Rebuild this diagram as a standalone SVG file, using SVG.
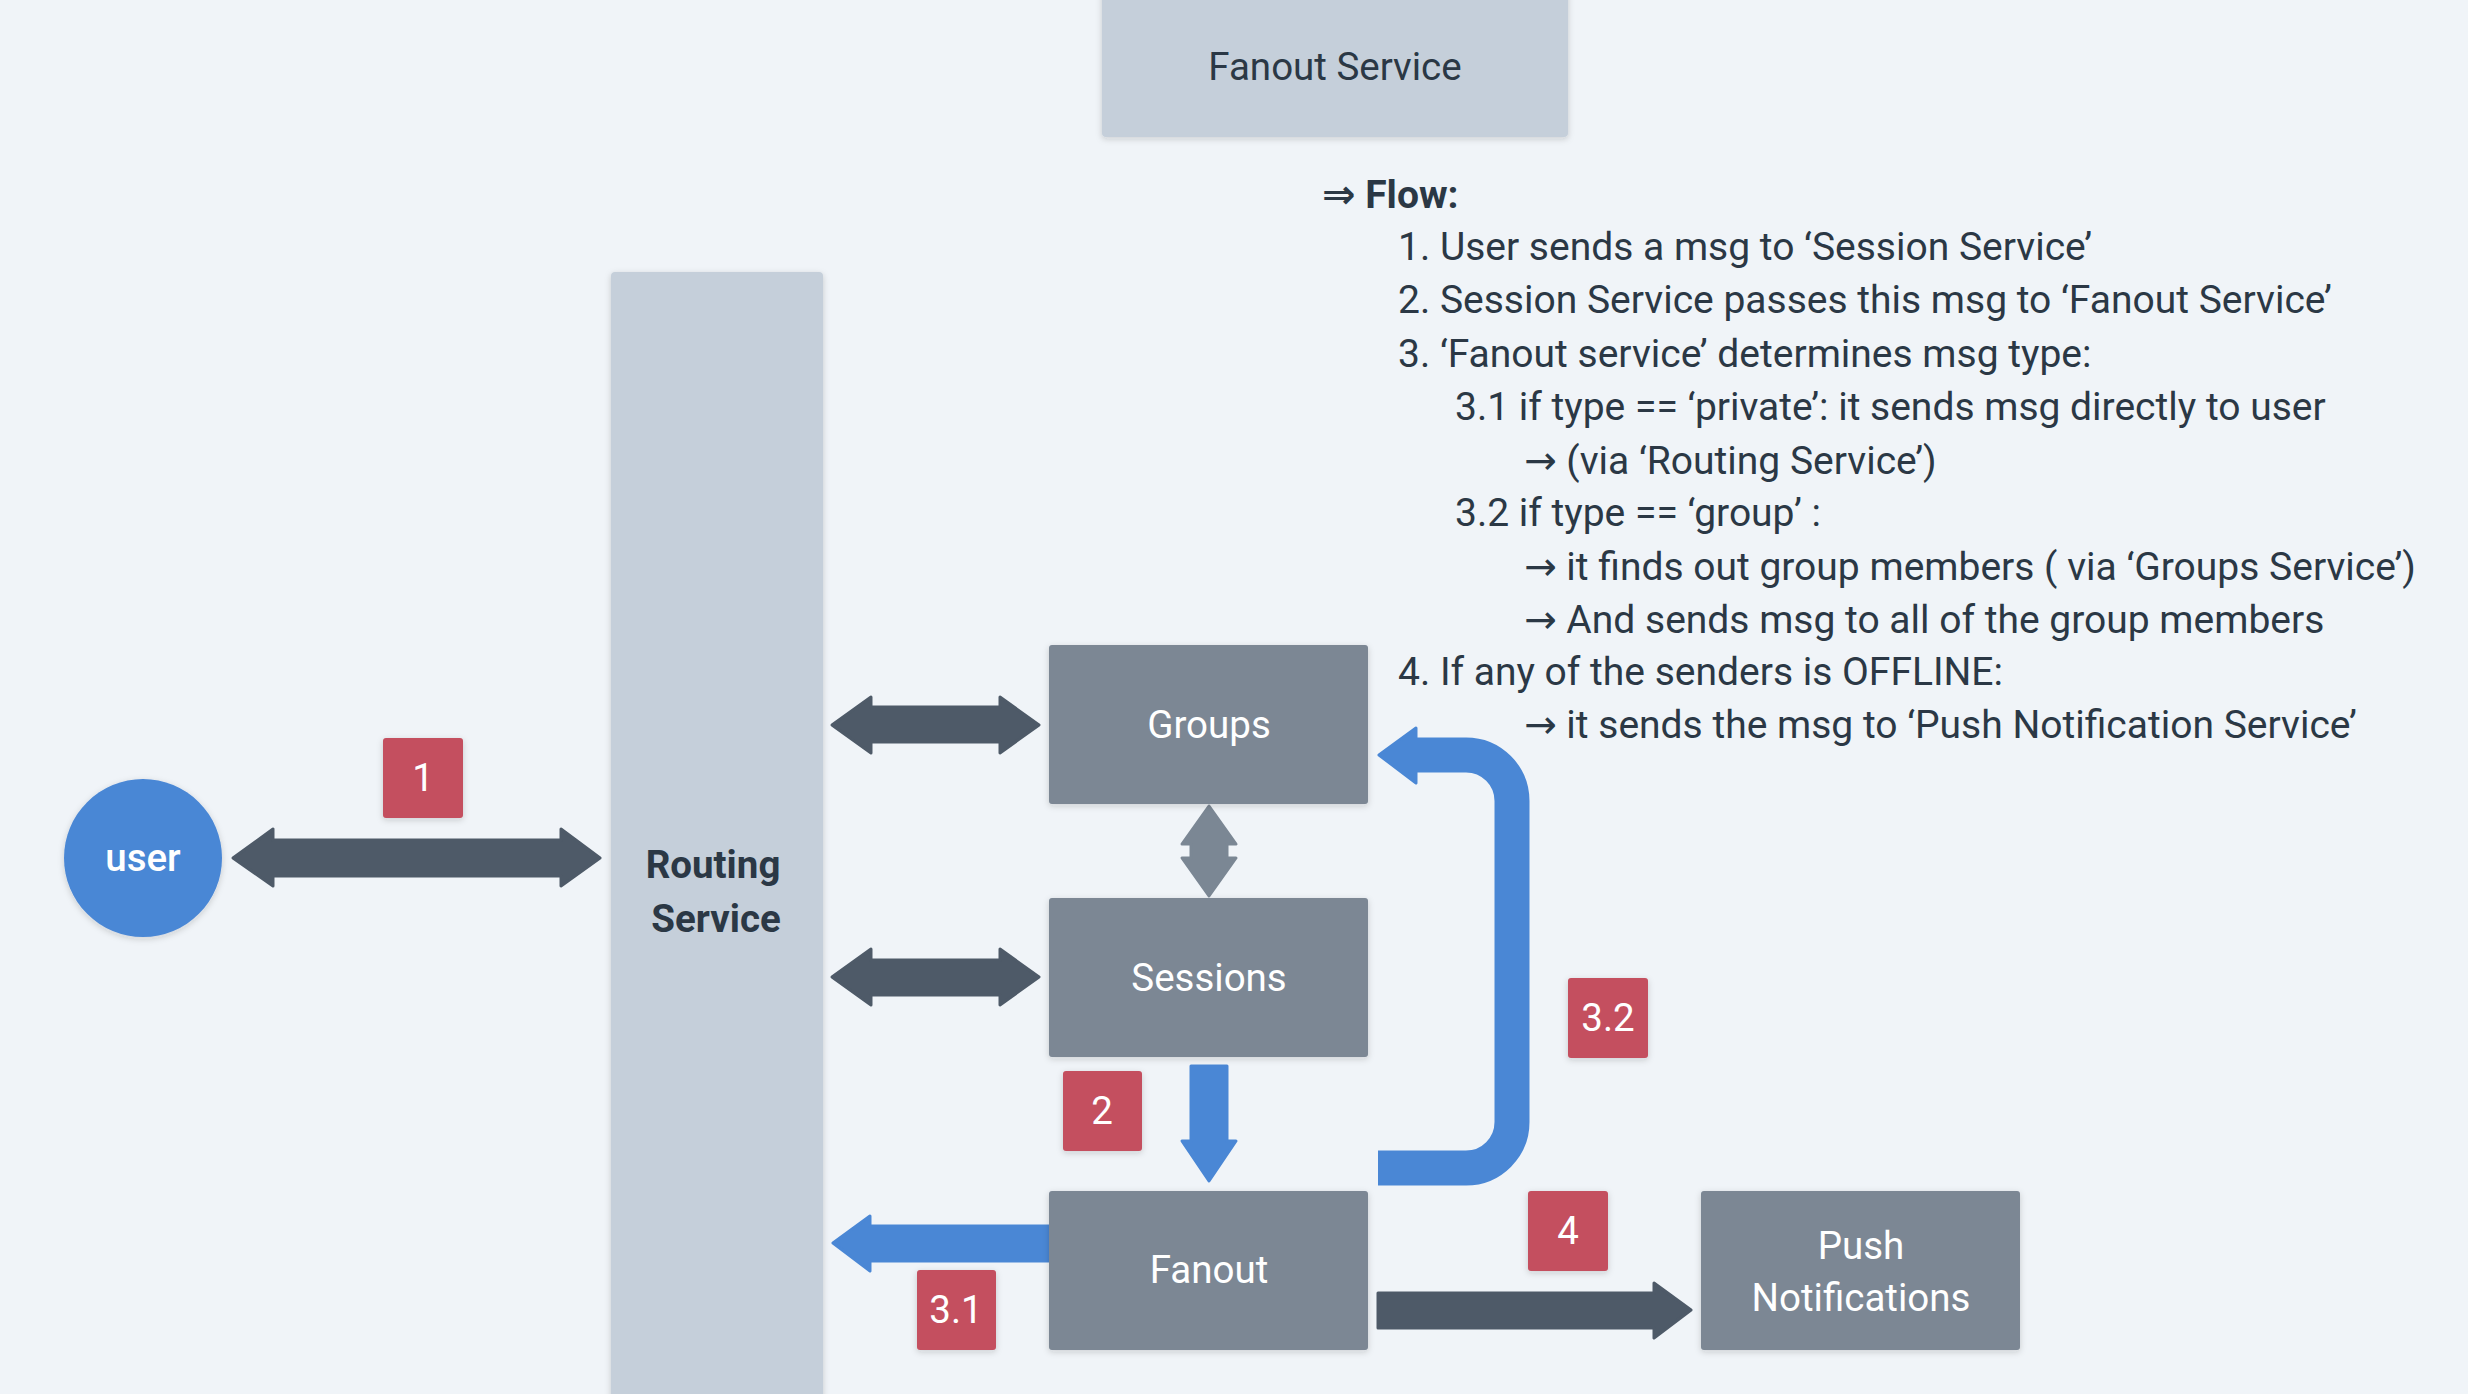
<svg xmlns="http://www.w3.org/2000/svg" width="2468" height="1394" viewBox="0 0 2468 1394">
<defs>
<filter id="sh" x="-10%" y="-10%" width="120%" height="130%">
<feDropShadow dx="0" dy="2" stdDeviation="3" flood-color="#1f2933" flood-opacity="0.18"/>
</filter>
</defs>
<style>
.bg{fill:#F0F4F8}
.light{fill:#C5CFDA;filter:url(#sh)}
.grey{fill:#7B8794;filter:url(#sh)}
.badge{fill:#C44F5E;filter:url(#sh)}
.dark{fill:#4E5A68;stroke:#4E5A68;stroke-width:3;stroke-linejoin:round}
.garr{fill:#7B8794;stroke:#7B8794;stroke-width:3;stroke-linejoin:round}
.blue{fill:#4A87D5;stroke:#4A87D5;stroke-width:3;stroke-linejoin:round}
.bluestroke{fill:none;stroke:#4A87D5;stroke-width:35}
.t{font-family:Roboto,"Noto Sans","DejaVu Sans",sans-serif;font-size:38.5px}
.w{fill:#FFFFFF;text-anchor:middle}
.d{fill:#2B3845}
.f{font-family:Roboto,"Noto Sans","DejaVu Sans",sans-serif;font-size:39px;fill:#2B3845}
.arr{font-family:"DejaVu Sans",sans-serif;font-size:40px;font-weight:bold}
</style>
<rect class="bg" x="0" y="0" width="2468" height="1394"/>

<g id="connectors">
<polygon class="dark" points="233,858 273,829 273,840 561,840 561,829 600,858 561,886 561,876 273,876 273,886"/>
<polygon class="dark" points="832,725 871,697 871,707 1000,707 1000,697 1039,725 1000,753 1000,742 871,742 871,753"/>
<polygon class="dark" points="832,977 871,949 871,960 1000,960 1000,949 1039,977 1000,1005 1000,995 871,995 871,1005"/>
<polygon class="garr" points="1209,806 1236,844 1227,844 1227,858 1236,858 1209,896 1182,858 1191,858 1191,844 1182,844"/>
<polygon class="blue" points="1191,1066 1227,1066 1227,1141 1236,1141 1209,1181 1182,1141 1191,1141"/>
<polygon class="blue" points="1050,1226 870,1226 870,1216 833,1243 870,1271 870,1261 1050,1261"/>
<polygon class="dark" points="1378,1293 1654,1293 1654,1283 1691,1310 1654,1338 1654,1328 1378,1328"/>
<path class="bluestroke" d="M1378,1168 H1466 A46,46 0 0 0 1512,1122 V801 A46,46 0 0 0 1466,755 H1414"/>
<polygon class="blue" points="1416,728 1379,755 1416,783"/>
</g>

<g id="fanout-service">
<rect class="light" x="1102" y="-10" width="466" height="147" rx="4"/>
<text class="t d" x="1335" y="80" text-anchor="middle">Fanout Service</text>
</g>

<g id="routing-service">
<rect class="light" x="611" y="272" width="212" height="1140" rx="4"/>
<text class="t d" x="713" y="878" text-anchor="middle" font-weight="bold">Routing</text>
<text class="t d" x="716" y="932" text-anchor="middle" font-weight="bold">Service</text>
</g>

<g id="user">
<circle cx="143" cy="858" r="79" fill="#4A87D5" filter="url(#sh)"/>
<text class="t w" x="143" y="871" font-size="41" font-weight="500">user</text>
</g>

<g id="groups">
<rect class="grey" x="1049" y="645" width="319" height="159" rx="3"/>
<text class="t w" x="1209" y="738">Groups</text>
</g>

<g id="sessions">
<rect class="grey" x="1049" y="898" width="319" height="159" rx="3"/>
<text class="t w" x="1209" y="991">Sessions</text>
</g>

<g id="fanout">
<rect class="grey" x="1049" y="1191" width="319" height="159" rx="3"/>
<text class="t w" x="1209" y="1283">Fanout</text>
</g>

<g id="push-notifications">
<rect class="grey" x="1701" y="1191" width="319" height="159" rx="3"/>
<text class="t w" x="1861" y="1259">Push</text>
<text class="t w" x="1861" y="1311">Notifications</text>
</g>

<g id="badge-1">
<rect class="badge" x="383" y="738" width="80" height="80" rx="3"/>
<text class="t w" x="423" y="791">1</text>
</g>
<g id="badge-2">
<rect class="badge" x="1063" y="1071" width="79" height="80" rx="3"/>
<text class="t w" x="1102" y="1124">2</text>
</g>
<g id="badge-3-1">
<rect class="badge" x="917" y="1270" width="79" height="80" rx="3"/>
<text class="t w" x="956" y="1323">3.1</text>
</g>
<g id="badge-3-2">
<rect class="badge" x="1568" y="978" width="80" height="80" rx="3"/>
<text class="t w" x="1608" y="1031">3.2</text>
</g>
<g id="badge-4">
<rect class="badge" x="1528" y="1191" width="80" height="80" rx="3"/>
<text class="t w" x="1568" y="1244">4</text>
</g>

<g id="flow-notes">
<text class="f" x="1322" y="208" font-weight="bold"><tspan class="arr">⇒</tspan> Flow:</text>
<text class="f" x="1398" y="260">1. User sends a msg to ‘Session Service’</text>
<text class="f" x="1398" y="313">2. Session Service passes this msg to ‘Fanout Service’</text>
<text class="f" x="1398" y="367">3. ‘Fanout service’ determines msg type:</text>
<text class="f" x="1455" y="420">3.1 if type == ‘private’: it sends msg directly to user</text>
<text class="f" x="1524" y="474">→ (via ‘Routing Service’)</text>
<text class="f" x="1455" y="526">3.2 if type == ‘group’ :</text>
<text class="f" x="1524" y="580">→ it finds out group members ( via ‘Groups Service’)</text>
<text class="f" x="1524" y="633">→ And sends msg to all of the group members</text>
<text class="f" x="1398" y="685">4. If any of the senders is OFFLINE:</text>
<text class="f" x="1524" y="738">→ it sends the msg to ‘Push Notification Service’</text>
</g>
</svg>
